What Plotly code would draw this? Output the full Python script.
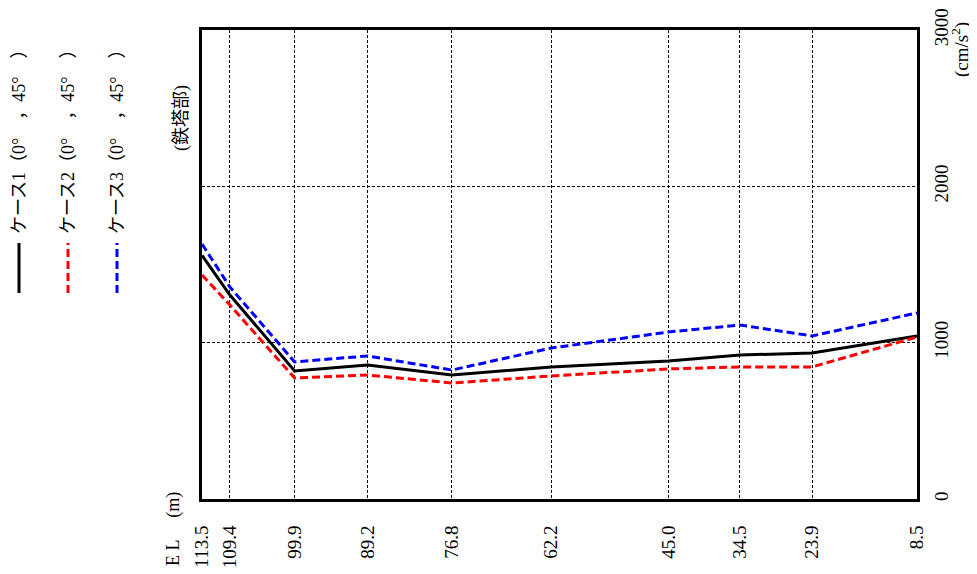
import plotly.graph_objects as go

el = [113.5, 109.4, 99.9, 89.2, 76.8, 62.2, 45.0, 34.5, 23.9, 8.5]
el_labels = ["113.5", "109.4", "99.9", "89.2", "76.8", "62.2", "45.0", "34.5", "23.9", "8.5"]
case1 = [1558, 1305, 819, 857, 793, 845, 883, 921, 934, 1043]
case2 = [1433, 1241, 774, 793, 742, 787, 832, 845, 845, 1036]
case3 = [1631, 1356, 877, 915, 825, 966, 1068, 1113, 1043, 1190]
names = ["ケース1（0°　，45°　）", "ケース2（0°　，45°　）", "ケース3（0°　，45°　）"]
colors = ["black", "red", "blue"]
dashes = ["solid", "8px,4px", "8px,4px"]
series = [case1, case2, case3]
y_ticks = [0, 1000, 2000, 3000]

FONT = "Liberation Serif, Noto Sans CJK JP"
OFF = 8  # page body margin
W, H = 977 - OFF, 574 - OFF
# plot area in page pixel coordinates
PL, PR, PT, PB = 202, 917, 30, 499
L, R, T, B = PL - OFF, W - (PR - OFF), PT - OFF, H - (PB - OFF)
pw, ph = PR - PL, PB - PT

def px(x):
    return (x - PL) / pw

def py(y):
    return (PB - y) / ph

fig = go.Figure()
for s, c, d, n in zip(series, colors, dashes, names):
    fig.add_trace(go.Scatter(x=el, y=s, mode="lines", name=n,
                             line=dict(color=c, width=3, dash=d),
                             showlegend=False))

fig.update_layout(
    width=W, height=H,
    margin=dict(l=L, r=R, t=T, b=B, autoexpand=False),
    paper_bgcolor="white", plot_bgcolor="white",
    font=dict(family=FONT, size=18, color="black"),
    xaxis=dict(range=[113.5, 8.5], tickvals=el, ticktext=el_labels,
               tickangle=-90, showgrid=True, gridcolor="black", gridwidth=1,
               griddash="3px,2px", showline=True, linecolor="black",
               linewidth=3, mirror=True, ticks="", zeroline=False,
               automargin=False,
               ticklabelstandoff=16, tickfont=dict(size=19, family=FONT)),
    yaxis=dict(range=[0, 3000], tickvals=y_ticks, side="right",
               tickangle=-90, showgrid=True, gridcolor="black", gridwidth=1,
               griddash="3px,2px", showline=True, linecolor="black",
               linewidth=3, mirror=True, ticks="", zeroline=False,
               automargin=False,
               ticklabelstandoff=5, tickfont=dict(size=19, family=FONT)),
)

ann = []
ann.append(dict(text="E L　 (m)", x=px(173), y=py(529), xref="paper", yref="paper",
                xanchor="center", yanchor="middle",
                showarrow=False, textangle=-90, font=dict(size=18, family=FONT)))
ann.append(dict(text="(cm/s<sup>2</sup>)", x=px(961), y=py(50), xref="paper", yref="paper",
                xanchor="center", yanchor="middle",
                showarrow=False, textangle=-90, font=dict(size=19, family=FONT)))
ann.append(dict(text="(鉄塔部)", x=px(182), y=py(118), xref="paper", yref="paper",
                xanchor="center", yanchor="middle",
                showarrow=False, textangle=-90, font=dict(size=18, family=FONT)))

shapes = []
leg_x = [19, 68, 117]
for lx, n, c, d in zip(leg_x, names, colors, dashes):
    shapes.append(dict(type="line", xref="paper", yref="paper",
                       x0=px(lx), x1=px(lx), y0=py(293), y1=py(243),
                       line=dict(color=c, width=3, dash=d)))
    ann.append(dict(text=n, x=px(lx), y=py(236), xref="paper", yref="paper",
                    showarrow=False, textangle=-90, xanchor="center", yanchor="bottom",
                    font=dict(size=18, family=FONT)))

fig.update_layout(annotations=ann, shapes=shapes)
fig.write_html("out.html")
